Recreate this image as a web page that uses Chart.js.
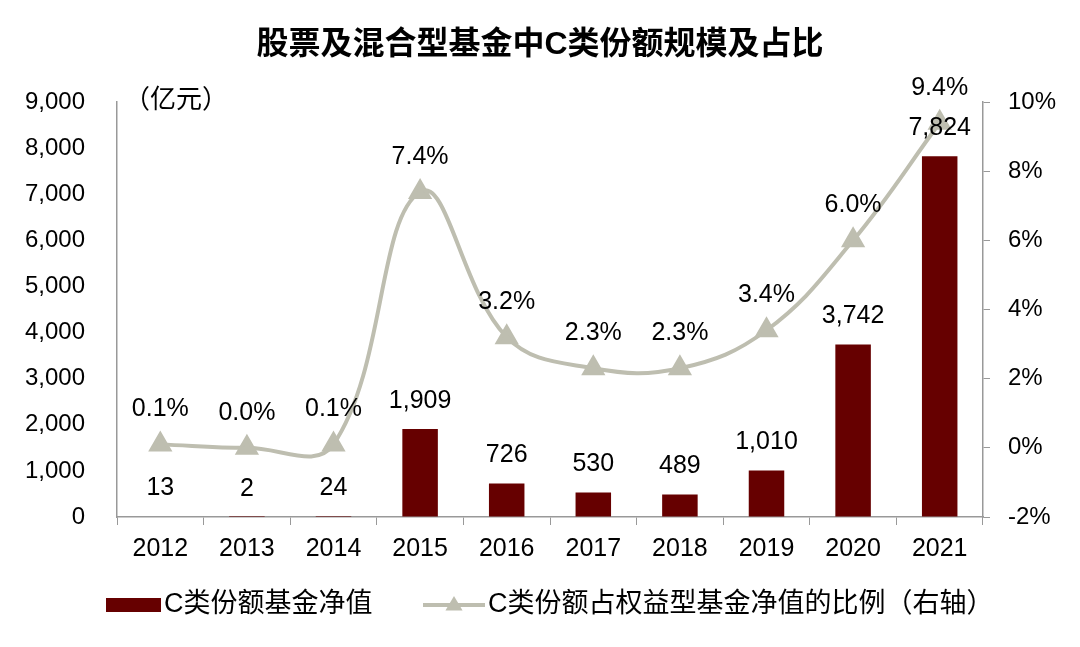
<!DOCTYPE html>
<html>
<head>
<meta charset="utf-8">
<script src="https://cdn.jsdelivr.net/npm/chart.js@4.4.1/dist/chart.umd.min.js"></script>
<style>
  html, body { margin: 0; padding: 0; background: #fff; }
  #box { width: 1080px; height: 647px; }
</style>
</head>
<body>
<div id="box"><canvas id="grafico"></canvas></div>
<script>
const anos = ["2012", "2013", "2014", "2015", "2016", "2017", "2018", "2019", "2020", "2021"];
const valorC = [13, 2, 24, 1909, 726, 530, 489, 1010, 3742, 7824];
const proporcaoC = [0.1, 0.0, 0.1, 7.4, 3.2, 2.3, 2.3, 3.4, 6.0, 9.4];

const corBarra = "#660000";
const corLinha = "#BEBEB0";
const fonte = "'Liberation Sans', Arial, 'Noto Sans CJK SC', sans-serif";
const fonteCJK = "'Liberation Sans', 'Noto Sans CJK SC', sans-serif";

function triangulo(ctx, x, y, r) {
    ctx.beginPath();
    ctx.moveTo(x, y - r);
    ctx.lineTo(x + r * 0.95, y + r * 0.6);
    ctx.lineTo(x - r * 0.95, y + r * 0.6);
    ctx.closePath();
    ctx.fill();
}

const extras = {
    id: "extras",
    afterDatasetsDraw(chart) {
        const ctx = chart.ctx;
        ctx.save();
        ctx.fillStyle = "#000";
        ctx.textAlign = "center";
        ctx.textBaseline = "middle";
        ctx.font = "25px " + fonte;

        // rotulos das barras
        chart.getDatasetMeta(0).data.forEach((bar, i) => {
            ctx.fillText(valorC[i].toLocaleString("en-US"), bar.x, bar.y - 28);
        });
        // rotulos da linha
        chart.getDatasetMeta(1).data.forEach((pt, i) => {
            ctx.fillText(proporcaoC[i].toFixed(1) + "%", pt.x, pt.y - 35);
        });

        // titulo
        ctx.font = "bold 32px " + fonteCJK;
        ctx.fillText("股票及混合型基金中C类份额规模及占比", 540, 45);

        // unidade
        ctx.font = "26px " + fonteCJK;
        ctx.textAlign = "left";
        ctx.fillText("（亿元）", 124, 101);

        // legenda
        const ly = 605;
        ctx.fillStyle = corBarra;
        ctx.fillRect(106, ly - 7, 55, 14);
        ctx.strokeStyle = corLinha;
        ctx.lineWidth = 4;
        ctx.beginPath();
        ctx.moveTo(423, ly);
        ctx.lineTo(485, ly);
        ctx.stroke();
        ctx.fillStyle = corLinha;
        triangulo(ctx, 454, ly, 9);
        ctx.fillStyle = "#000";
        ctx.font = "27px " + fonteCJK;
        ctx.fillText("C类份额基金净值", 164, ly);
        ctx.fillText("C类份额占权益型基金净值的比例（右轴）", 488, ly);
        ctx.restore();
    }
};

new Chart(document.getElementById("grafico"), {
    data: {
        labels: anos,
        datasets: [{
            type: "bar",
            label: "C类份额基金净值",
            data: valorC,
            backgroundColor: corBarra,
            yAxisID: "y",
            barPercentage: 0.41,
            categoryPercentage: 1,
            order: 2
        }, {
            type: "line",
            label: "C类份额占权益型基金净值的比例（右轴）",
            data: proporcaoC,
            borderColor: corLinha,
            backgroundColor: corLinha,
            borderWidth: 4,
            pointStyle: "triangle",
            pointRadius: 10,
            pointHoverRadius: 10,
            tension: 0.4,
            yAxisID: "y1",
            order: 1
        }]
    },
    options: {
        responsive: true,
        maintainAspectRatio: false,
        animation: false,
        layout: { padding: { top: 102, bottom: 0, left: 0, right: 0 } },
        plugins: {
            legend: { display: false },
            title: { display: false },
            tooltip: { enabled: false }
        },
        scales: {
            x: {
                grid: { drawOnChartArea: false, tickLength: 8, color: "#999" },
                border: { color: "#999", width: 1.5 },
                ticks: { color: "#000", font: { size: 25, family: fonte }, padding: 9 },
                afterFit(s) { s.height = 130; }
            },
            y: {
                position: "left",
                min: 0,
                max: 9000,
                ticks: {
                    stepSize: 1000,
                    color: "#000",
                    font: { size: 24, family: fonte },
                    padding: 32,
                    callback: v => v.toLocaleString("en-US")
                },
                grid: { drawOnChartArea: false, drawTicks: false },
                border: { color: "#999", width: 1.5 },
                afterFit(s) { s.width = 117; }
            },
            y1: {
                position: "right",
                min: -2,
                max: 10,
                ticks: {
                    stepSize: 2,
                    color: "#000",
                    font: { size: 24, family: fonte },
                    padding: 18,
                    callback: v => v + "%"
                },
                grid: { drawOnChartArea: false, tickLength: 7, color: "#999" },
                border: { color: "#999", width: 1.5 },
                afterFit(s) { s.width = 97; }
            }
        }
    },
    plugins: [extras]
});
</script>
</body>
</html>
